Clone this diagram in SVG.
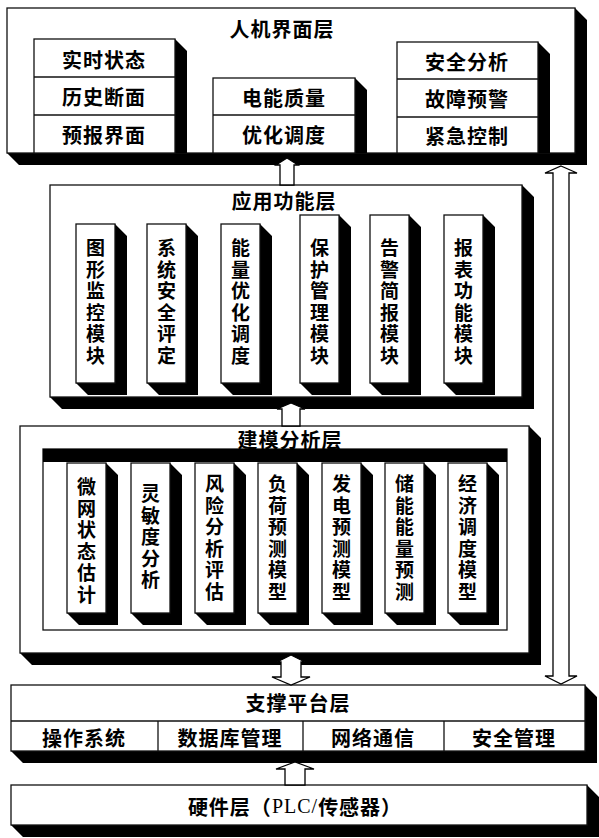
<svg xmlns="http://www.w3.org/2000/svg" width="599" height="838" viewBox="0 0 599 838">
<style>
.bg{fill:#fff}
.box{fill:#fff;stroke:#111;stroke-width:1.3}
.sh{fill:#000}
.ln{stroke:#111;stroke-width:1.3;fill:none}
.t{font-family:"Noto Sans CJK SC","Noto Sans",sans-serif;font-weight:700;font-size:20px;letter-spacing:1px;fill:#000;text-anchor:middle;dominant-baseline:central}
.v{font-family:"Noto Sans CJK SC","Noto Sans",sans-serif;font-weight:700;font-size:19px;fill:#000;text-anchor:middle}
.ar{fill:#fff;stroke:#000;stroke-width:1.3;stroke-linejoin:miter}
</style>
<rect class="bg" x="0" y="0" width="599" height="838"/>

<g id="layer-hmi">
<polygon class="sh" points="575,8 587,20 587,165 19,165 7,153 575,153"/>
<rect class="box" x="7" y="8" width="568" height="145"/>
<text class="t" x="282" y="28">人机界面层</text>
<g id="hmi-left">
<polygon class="sh" points="175,39 187,51 187,153 175,153"/>
<rect class="box" x="34" y="39" width="141" height="114"/>
<line class="ln" x1="34" y1="77" x2="175" y2="77"/>
<line class="ln" x1="34" y1="115" x2="175" y2="115"/>
<text class="t" x="104" y="59">实时状态</text>
<text class="t" x="104" y="96">历史断面</text>
<text class="t" x="104" y="134">预报界面</text>
</g>
<g id="hmi-mid">
<polygon class="sh" points="355,78 367,90 367,153 355,153"/>
<rect class="box" x="213" y="78" width="142" height="75"/>
<line class="ln" x1="213" y1="115" x2="355" y2="115"/>
<text class="t" x="284" y="97">电能质量</text>
<text class="t" x="284" y="134">优化调度</text>
</g>
<g id="hmi-right">
<polygon class="sh" points="538,42 550,54 550,153 538,153"/>
<rect class="box" x="397" y="42" width="141" height="111"/>
<line class="ln" x1="397" y1="79" x2="538" y2="79"/>
<line class="ln" x1="397" y1="117" x2="538" y2="117"/>
<text class="t" x="467" y="61">安全分析</text>
<text class="t" x="467" y="98">故障预警</text>
<text class="t" x="467" y="135">紧急控制</text>
</g>
</g>

<g id="layer-app">
<polygon class="sh" points="522,185 534,197 534,409 62,409 50,397 522,397"/>
<rect class="box" x="50" y="185" width="472" height="212"/>
<text class="t" x="284" y="200">应用功能层</text>
<g id="app-1">
<polygon class="sh" points="115,224 127,236 127,395 88,395 76,383 115,383"/>
<rect class="box" x="76" y="224" width="39" height="159"/>
<text class="v"><tspan x="95.5" y="255">图</tspan><tspan x="95.5" y="276.5">形</tspan><tspan x="95.5" y="298">监</tspan><tspan x="95.5" y="319.5">控</tspan><tspan x="95.5" y="341">模</tspan><tspan x="95.5" y="362.5">块</tspan></text>
</g>
<g id="app-2">
<polygon class="sh" points="186,224 198,236 198,395 159,395 147,383 186,383"/>
<rect class="box" x="147" y="224" width="39" height="159"/>
<text class="v"><tspan x="166.5" y="255">系</tspan><tspan x="166.5" y="276.5">统</tspan><tspan x="166.5" y="298">安</tspan><tspan x="166.5" y="319.5">全</tspan><tspan x="166.5" y="341">评</tspan><tspan x="166.5" y="362.5">定</tspan></text>
</g>
<g id="app-3">
<polygon class="sh" points="260,224 272,236 272,395 233,395 221,383 260,383"/>
<rect class="box" x="221" y="224" width="39" height="159"/>
<text class="v"><tspan x="240.5" y="255">能</tspan><tspan x="240.5" y="276.5">量</tspan><tspan x="240.5" y="298">优</tspan><tspan x="240.5" y="319.5">化</tspan><tspan x="240.5" y="341">调</tspan><tspan x="240.5" y="362.5">度</tspan></text>
</g>
<g id="app-4">
<polygon class="sh" points="339,215 351,227 351,395 312,395 300,383 339,383"/>
<rect class="box" x="300" y="215" width="39" height="168"/>
<text class="v"><tspan x="319.5" y="255">保</tspan><tspan x="319.5" y="276.5">护</tspan><tspan x="319.5" y="298">管</tspan><tspan x="319.5" y="319.5">理</tspan><tspan x="319.5" y="341">模</tspan><tspan x="319.5" y="362.5">块</tspan></text>
</g>
<g id="app-5">
<polygon class="sh" points="409,215 421,227 421,395 382,395 370,383 409,383"/>
<rect class="box" x="370" y="215" width="39" height="168"/>
<text class="v"><tspan x="389.5" y="255">告</tspan><tspan x="389.5" y="276.5">警</tspan><tspan x="389.5" y="298">简</tspan><tspan x="389.5" y="319.5">报</tspan><tspan x="389.5" y="341">模</tspan><tspan x="389.5" y="362.5">块</tspan></text>
</g>
<g id="app-6">
<polygon class="sh" points="483,215 495,227 495,395 456,395 444,383 483,383"/>
<rect class="box" x="444" y="215" width="39" height="168"/>
<text class="v"><tspan x="463.5" y="255">报</tspan><tspan x="463.5" y="276.5">表</tspan><tspan x="463.5" y="298">功</tspan><tspan x="463.5" y="319.5">能</tspan><tspan x="463.5" y="341">模</tspan><tspan x="463.5" y="362.5">块</tspan></text>
</g>
</g>

<g id="layer-model">
<polygon class="sh" points="529,426 541,438 541,665 32,665 20,653 529,653"/>
<rect class="box" x="20" y="426" width="509" height="227"/>
<rect class="box" x="43" y="449" width="464" height="181"/>
<rect class="sh" x="43" y="449" width="464" height="13"/>
<text class="t" x="290" y="439">建模分析层</text>
<g id="m-1">
<polygon class="sh" points="106,463 118,475 118,625 79,625 67,613 106,613"/>
<rect class="box" x="67" y="463" width="39" height="150"/>
<text class="v"><tspan x="86.5" y="494">微</tspan><tspan x="86.5" y="515.5">网</tspan><tspan x="86.5" y="537">状</tspan><tspan x="86.5" y="558.5">态</tspan><tspan x="86.5" y="580">估</tspan><tspan x="86.5" y="601.5">计</tspan></text>
</g>
<g id="m-2">
<polygon class="sh" points="170,463 182,475 182,625 143,625 131,613 170,613"/>
<rect class="box" x="131" y="463" width="39" height="150"/>
<text class="v"><tspan x="150.5" y="501">灵</tspan><tspan x="150.5" y="522.5">敏</tspan><tspan x="150.5" y="544">度</tspan><tspan x="150.5" y="565.5">分</tspan><tspan x="150.5" y="587">析</tspan></text>
</g>
<g id="m-3">
<polygon class="sh" points="234,463 246,475 246,625 207,625 195,613 234,613"/>
<rect class="box" x="195" y="463" width="39" height="150"/>
<text class="v"><tspan x="214.5" y="491">风</tspan><tspan x="214.5" y="512.5">险</tspan><tspan x="214.5" y="534">分</tspan><tspan x="214.5" y="555.5">析</tspan><tspan x="214.5" y="577">评</tspan><tspan x="214.5" y="598.5">估</tspan></text>
</g>
<g id="m-4">
<polygon class="sh" points="297,463 309,475 309,625 270,625 258,613 297,613"/>
<rect class="box" x="258" y="463" width="39" height="150"/>
<text class="v"><tspan x="277.5" y="491">负</tspan><tspan x="277.5" y="512.5">荷</tspan><tspan x="277.5" y="534">预</tspan><tspan x="277.5" y="555.5">测</tspan><tspan x="277.5" y="577">模</tspan><tspan x="277.5" y="598.5">型</tspan></text>
</g>
<g id="m-5">
<polygon class="sh" points="361,463 373,475 373,625 334,625 322,613 361,613"/>
<rect class="box" x="322" y="463" width="39" height="150"/>
<text class="v"><tspan x="341.5" y="491">发</tspan><tspan x="341.5" y="512.5">电</tspan><tspan x="341.5" y="534">预</tspan><tspan x="341.5" y="555.5">测</tspan><tspan x="341.5" y="577">模</tspan><tspan x="341.5" y="598.5">型</tspan></text>
</g>
<g id="m-6">
<polygon class="sh" points="424,463 436,475 436,625 397,625 385,613 424,613"/>
<rect class="box" x="385" y="463" width="39" height="150"/>
<text class="v"><tspan x="404.5" y="491">储</tspan><tspan x="404.5" y="512.5">能</tspan><tspan x="404.5" y="534">能</tspan><tspan x="404.5" y="555.5">量</tspan><tspan x="404.5" y="577">预</tspan><tspan x="404.5" y="598.5">测</tspan></text>
</g>
<g id="m-7">
<polygon class="sh" points="487,463 499,475 499,625 460,625 448,613 487,613"/>
<rect class="box" x="448" y="463" width="39" height="150"/>
<text class="v"><tspan x="467.5" y="491">经</tspan><tspan x="467.5" y="512.5">济</tspan><tspan x="467.5" y="534">调</tspan><tspan x="467.5" y="555.5">度</tspan><tspan x="467.5" y="577">模</tspan><tspan x="467.5" y="598.5">型</tspan></text>
</g>
</g>

<g id="layer-support">
<polygon class="sh" points="585,685 597,697 597,763 23,763 11,751 585,751"/>
<rect class="box" x="11" y="685" width="574" height="66"/>
<line class="ln" x1="11" y1="721" x2="585" y2="721"/>
<line class="ln" x1="158" y1="721" x2="158" y2="751"/>
<line class="ln" x1="303" y1="721" x2="303" y2="751"/>
<line class="ln" x1="444" y1="721" x2="444" y2="751"/>
<text class="t" x="298" y="702">支撑平台层</text>
<text class="t" x="84" y="737">操作系统</text>
<text class="t" x="230" y="737">数据库管理</text>
<text class="t" x="373" y="737">网络通信</text>
<text class="t" x="514" y="737">安全管理</text>
</g>

<g id="layer-hw">
<polygon class="sh" points="587,785 599,797 599,837 23,837 11,825 587,825"/>
<rect class="box" x="11" y="785" width="576" height="40"/>
<text class="t" x="295" y="806">硬件层（<tspan font-family="'Liberation Serif',serif" font-weight="400">PLC/</tspan>传感器）</text>
</g>

<g id="connectors">
<polygon class="ar" points="287,158 298,165 294,165 294,185 280,185 280,165 276,165"/>
<polygon class="ar" points="291,403 305,409 300,409 300,426 282,426 282,409 277,409"/>
<polygon class="ar" points="291,655 305,662 301,662 301,677 310,677 291,685 272,677 281,677 281,662 277,662"/>
<polygon class="ar" points="295,762 314,769 305,769 305,785 285,785 285,769 276,769"/>
<polygon class="ar" points="561,166 577,173 569,173 569,676 577,676 561,684 545,676 553,676 553,173 545,173"/>
</g>
</svg>
